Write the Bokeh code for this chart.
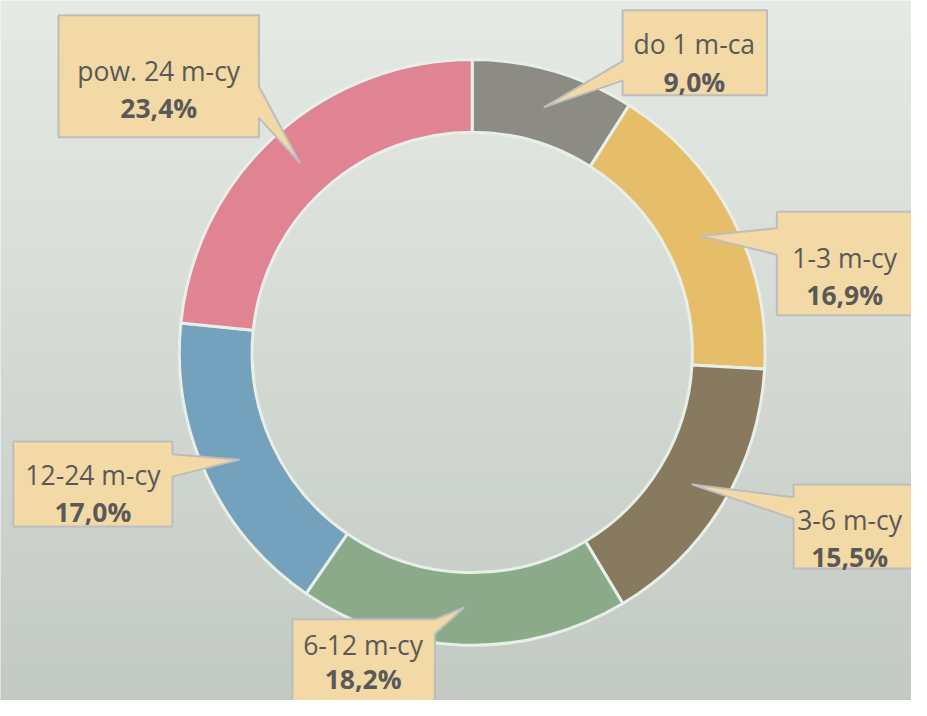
import numpy as np
from bokeh.plotting import figure
from bokeh.models import Range1d
from bokeh.core.properties import value
from bokeh.embed import file_html
from bokeh.resources import INLINE

# ---- data ----
categories = ["do 1 m-ca", "1-3 m-cy", "3-6 m-cy", "6-12 m-cy", "12-24 m-cy", "pow. 24 m-cy"]
shares = [9.0, 16.9, 15.5, 18.2, 17.0, 23.4]
colors = ["#8C8C85", "#E6BE69", "#877A5F", "#8AAA8A", "#74A1BC", "#E08393"]

# ---- layout (reference pixel coords, y downward) ----
W, H = 911, 700
REF_W, REF_H = 927, 716
cx, cy = 480, 360
r_in, r_out = 224, 298

# label boxes: x0, x1, y0, y1, pointer side, pointer base (y0, y1)
boxes = [
    (633, 780, 10, 97, "left", (62, 82)),
    (790, 960, 216, 322, "left", (233, 260)),
    (807, 960, 495, 581, "left", (508, 530)),
    (297, 442, 633, 760, "right", (633, 648)),
    (13, 175, 451, 538, "right", (464, 487)),
    (59, 263, 15, 140, "right", (88, 120)),
]
# text anchor: center x, first-line baseline y, line gap
text_pos = [(706, 45, 38), (859, 263, 38), (864, 531, 38),
            (369, 659, 35), (94, 485, 38), (161, 72, 38)]


def fy(Y):
    return REF_H - Y


p = figure(width=W, height=H, output_backend="svg", toolbar_location=None,
           x_range=Range1d(0, REF_W), y_range=Range1d(0, REF_H),
           min_border=0, outline_line_color=None)
p.axis.visible = False
p.grid.visible = False
p.background_fill_color = None
p.border_fill_color = "#D5DBD5"

# background gradient
top = np.array([0xE6, 0xEB, 0xE6], float)
bot = np.array([0xC3, 0xC9, 0xC3], float)
n = 256
t = np.linspace(0, 1, n)[:, None]  # row 0 = bottom
rgb = (bot * (1 - t) + top * t).astype(np.uint32)
img = np.zeros((n, 1), dtype=np.uint32)
view = img.view(dtype=np.uint8).reshape((n, 1, 4))
view[:, 0, 0] = rgb[:, 0]
view[:, 0, 1] = rgb[:, 1]
view[:, 0, 2] = rgb[:, 2]
view[:, 0, 3] = 255
p.image_rgba(image=[img], x=-5, y=-5, dw=REF_W + 10, dh=REF_H + 10)

# donut
fr = np.array(shares) / sum(shares)
cum = np.concatenate([[0], np.cumsum(fr)])
start = np.pi / 2 - cum[:-1] * 2 * np.pi
end = np.pi / 2 - cum[1:] * 2 * np.pi
p.annular_wedge(x=cx, y=fy(cy), inner_radius=r_in, outer_radius=r_out,
                start_angle=start, end_angle=end, direction="clock",
                fill_color=colors, line_color="#E8EEE8", line_width=3)

# callouts
mid = (cum[:-1] + cum[1:]) / 2 * 2 * np.pi
r_tip = (r_in + r_out) / 2
xs, ys = [], []
for (x0, x1, y0, y1, side, (b0, b1)), th in zip(boxes, mid):
    tx = cx + r_tip * np.sin(th)
    ty = cy - r_tip * np.cos(th)
    if side == "left":
        pts = [(x0, y0), (x1, y0), (x1, y1), (x0, y1), (x0, b1), (tx, ty), (x0, b0)]
    else:
        pts = [(x0, y0), (x1, y0), (x1, b0), (tx, ty), (x1, b1), (x1, y1), (x0, y1)]
    xs.append([q[0] for q in pts])
    ys.append([fy(q[1]) for q in pts])
p.patches(xs=xs, ys=ys, fill_color="#F2D9A5", line_color="#BDBDBD", line_width=2)

# texts
pct = [f"{v:.1f}%".replace(".", ",") for v in shares]
tx = [q[0] for q in text_pos]
p.text(x=tx, y=[fy(q[1]) for q in text_pos], text=categories,
       text_font=value("Open Sans"), text_font_size="26.5px", text_color="#595959",
       text_align="center", text_baseline="alphabetic")
p.text(x=tx, y=[fy(q[1] + q[2]) for q in text_pos], text=pct,
       text_font=value("Open Sans"), text_font_size="26.5px", text_font_style="bold",
       text_color="#595959", text_align="center", text_baseline="alphabetic")

open("out.html", "w").write(file_html(p, INLINE))
